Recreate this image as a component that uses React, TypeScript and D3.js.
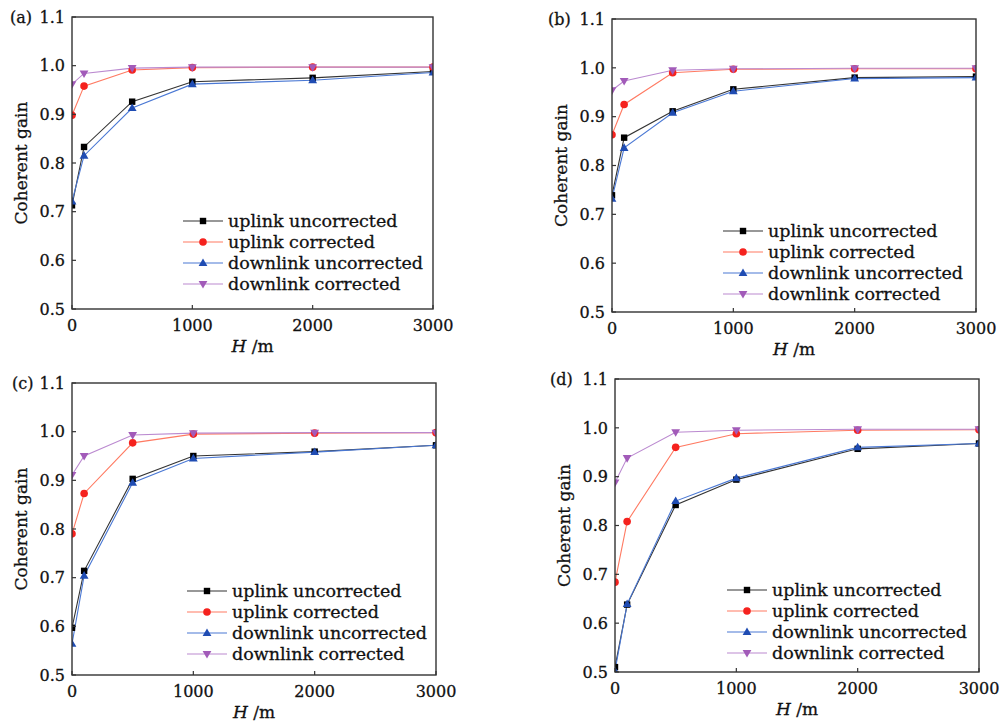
import React from "react";
import * as d3 from "d3";

const heights = [0, 100, 500, 1000, 2000, 3000];
const xTicks = [0, 1000, 2000, 3000];
const yTicks = [0.5, 0.6, 0.7, 0.8, 0.9, 1.0, 1.1];
const seriesNames = ["uplink uncorrected", "uplink corrected", "downlink uncorrected", "downlink corrected"];
const panelLabels = ["(a)", "(b)", "(c)", "(d)"];

// panel (a)
const aUpUnc = [0.713, 0.833, 0.926, 0.967, 0.975, 0.988];
const aUpCor = [0.898, 0.958, 0.991, 0.996, 0.997, 0.997];
const aDnUnc = [0.721, 0.815, 0.913, 0.962, 0.970, 0.986];
const aDnCor = [0.962, 0.984, 0.995, 0.997, 0.997, 0.997];
// panel (b)
const bUpUnc = [0.739, 0.857, 0.911, 0.956, 0.980, 0.982];
const bUpCor = [0.863, 0.925, 0.990, 0.997, 0.998, 0.998];
const bDnUnc = [0.732, 0.836, 0.908, 0.952, 0.978, 0.980];
const bDnCor = [0.954, 0.973, 0.995, 0.998, 0.999, 0.999];
// panel (c)
const cUpUnc = [0.597, 0.714, 0.903, 0.950, 0.959, 0.972];
const cUpCor = [0.790, 0.873, 0.977, 0.995, 0.997, 0.998];
const cDnUnc = [0.564, 0.704, 0.895, 0.945, 0.958, 0.972];
const cDnCor = [0.911, 0.950, 0.993, 0.997, 0.998, 0.998];
// panel (d)
const dUpUnc = [0.510, 0.638, 0.842, 0.894, 0.957, 0.968];
const dUpCor = [0.684, 0.808, 0.960, 0.988, 0.995, 0.996];
const dDnUnc = [0.502, 0.639, 0.850, 0.897, 0.960, 0.968];
const dDnCor = [0.888, 0.938, 0.991, 0.995, 0.997, 0.997];

const panelData = [
  [aUpUnc, aUpCor, aDnUnc, aDnCor],
  [bUpUnc, bUpCor, bDnUnc, bDnCor],
  [cUpUnc, cUpCor, cDnUnc, cDnCor],
  [dUpUnc, dUpCor, dDnUnc, dDnCor],
];

// layout
const panels = [
  { l: 72, t: 17, r: 433, b: 309, lgx: 111, lgy: 88, plx: 10 },
  { l: 612, t: 19, r: 976, b: 312, lgx: 111, lgy: 81, plx: 548 },
  { l: 72, t: 383, r: 436, b: 675, lgx: 115, lgy: 84, plx: 12 },
  { l: 615, t: 379, r: 979, b: 672, lgx: 112, lgy: 82, plx: 550 },
];

const styles = [
  { line: "#333333", fill: "#000000", shape: "square" },
  { line: "#ff7a62", fill: "#f5221e", shape: "circle" },
  { line: "#4a78d4", fill: "#1f4cb3", shape: "up" },
  { line: "#bb8ad0", fill: "#a25bb9", shape: "down" },
];

const FONT = "'DejaVu Serif', 'Liberation Serif', serif";
const TXT = { fontFamily: FONT, fill: "#111", stroke: "#111", strokeWidth: 0.3 } as const;

function Marker({ x, y, shape, fill }: { x: number; y: number; shape: string; fill: string }) {
  if (shape === "square") return <rect x={x - 3.2} y={y - 3.2} width={6.4} height={6.4} fill={fill} />;
  if (shape === "circle") return <circle cx={x} cy={y} r={3.8} fill={fill} />;
  if (shape === "up") return <path d={`M${x},${y - 4.6}L${x + 4.4},${y + 3}L${x - 4.4},${y + 3}Z`} fill={fill} />;
  return <path d={`M${x},${y + 4.6}L${x + 4.4},${y - 3}L${x - 4.4},${y - 3}Z`} fill={fill} />;
}

function Panel({ idx }: { idx: number }) {
  const p = panels[idx];
  const data = panelData[idx];
  const x = d3.scaleLinear().domain([0, 3000]).range([p.l, p.r]);
  const y = d3.scaleLinear().domain([0.5, 1.1]).range([p.b, p.t]);
  const clipId = `clip${idx}`;
  const line = d3
    .line<number>()
    .x((_, i) => x(heights[i]))
    .y((v) => y(v));
  return (
    <g>
      <defs>
        <clipPath id={clipId}>
          <rect x={p.l} y={p.t} width={p.r - p.l} height={p.b - p.t} />
        </clipPath>
      </defs>
      <g clipPath={`url(#${clipId})`}>
        {data.map((s, si) => (
          <path key={"l" + si} d={line(s) || ""} fill="none" stroke={styles[si].line} strokeWidth={1.1} />
        ))}
        {data.map((s, si) =>
          s.map((v, i) => (
            <Marker key={`m${si}-${i}`} x={x(heights[i])} y={y(v)} shape={styles[si].shape} fill={styles[si].fill} />
          ))
        )}
      </g>
      <rect x={p.l} y={p.t} width={p.r - p.l} height={p.b - p.t} fill="none" stroke="#333" strokeWidth={1.4} />
      {yTicks.map((t) => (
        <g key={"y" + t}>
          <line x1={p.l} x2={p.l + 4} y1={y(t)} y2={y(t)} stroke="#333" strokeWidth={1.2} />
          <text x={p.l - 7} y={y(t)} dy="0.36em" textAnchor="end" fontSize={16} {...TXT}>
            {t.toFixed(1)}
          </text>
        </g>
      ))}
      {xTicks.map((t) => (
        <g key={"x" + t}>
          <line x1={x(t)} x2={x(t)} y1={p.b} y2={p.b - 4} stroke="#333" strokeWidth={1.2} />
          <text x={x(t)} y={p.b + 22} textAnchor="middle" fontSize={16} {...TXT}>
            {t}
          </text>
        </g>
      ))}
      <text x={p.plx} y={y(1.1)} dy="0.36em" textAnchor="start" fontSize={16} {...TXT}>
        {panelLabels[idx]}
      </text>
      <text
        transform={`translate(${p.l - 45},${(p.t + p.b) / 2}) rotate(-90)`}
        textAnchor="middle"
        fontSize={17}
        {...TXT}
      >
        Coherent gain
      </text>
      <text x={(p.l + p.r) / 2} y={p.b + 43} textAnchor="middle" fontSize={17} {...TXT}>
        <tspan fontStyle="italic">H</tspan>
        <tspan> /m</tspan>
      </text>
      {seriesNames.map((n, si) => {
        const lx = p.l + p.lgx;
        const ly = p.b - p.lgy + si * 21;
        return (
          <g key={"lg" + si}>
            <line x1={lx} x2={lx + 40} y1={ly} y2={ly} stroke={styles[si].line} strokeWidth={1.2} />
            <Marker x={lx + 20} y={ly} shape={styles[si].shape} fill={styles[si].fill} />
            <text x={lx + 45} y={ly} dy="0.33em" fontSize={17.5} {...TXT}>
              {n}
            </text>
          </g>
        );
      })}
    </g>
  );
}

export default function App() {
  return (
    <svg
      width={1002}
      height={725}
      style={{ position: "absolute", left: 0, top: 0, background: "#fff" }}
    >
      <rect width={1002} height={725} fill="#fff" />
      {panels.map((_, i) => (
        <Panel key={i} idx={i} />
      ))}
    </svg>
  );
}
